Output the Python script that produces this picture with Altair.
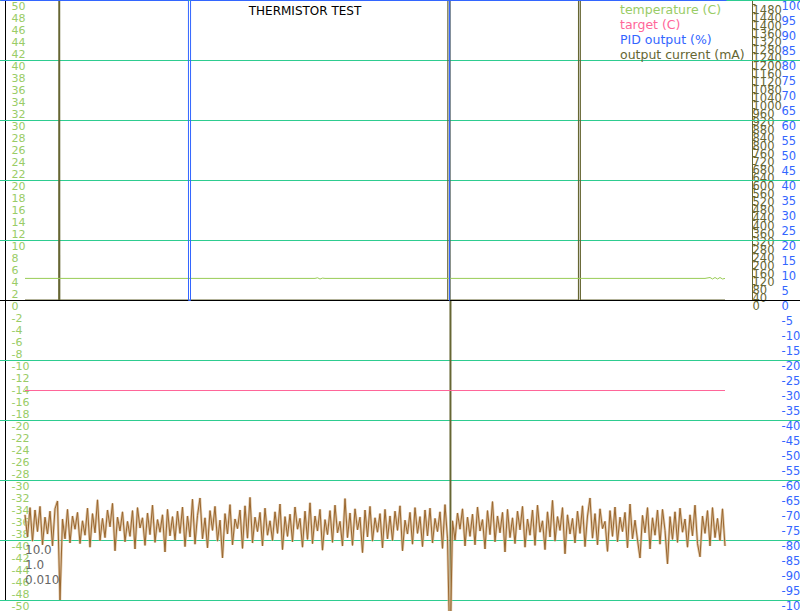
import altair as alt
import pandas as pd

# ---------------- data ----------------
# noisy brown trace (temperature scale, C), one sample per time unit, t = 0..280
brown = [
    -35.8, -39.5, -34.6, -40.2, -35.0, -38.6, -34.4, -40.8, -36.2, -39.0, -35.2, -41.0, -34.8, -33.5, -50.0, -36.5, -39.8, -34.9, -40.5, -36.0,
    -38.2, -35.4, -40.6, -36.8, -39.2, -34.7, -41.2, -35.6, -38.8, -33.3, -40.1, -36.4, -39.6, -35.0, -37.8, -33.9, -41.8, -36.2, -38.5, -35.3,
    -40.3, -36.9, -39.4, -35.1, -41.5, -34.6, -38.0, -36.3, -40.9, -35.5, -39.1, -34.2, -40.4, -36.6, -38.7, -35.8, -42.0, -34.9, -39.3, -36.1,
    -40.0, -35.2, -38.9, -34.5, -41.1, -36.0, -39.5, -33.2, -40.7, -35.9, -33.0, -39.8, -36.3, -41.3, -35.1, -38.4, -34.4, -40.2, -36.7, -43.0,
    -35.6, -39.0, -34.1, -40.8, -36.5, -38.1, -35.0, -41.4, -34.3, -39.7, -32.9, -40.5, -36.2, -38.6, -35.4, -41.0, -34.7, -39.2, -36.8, -40.1,
    -35.3, -38.9, -34.0, -41.6, -36.1, -39.4, -35.7, -40.3, -34.5, -38.2, -36.4, -41.2, -35.2, -39.9, -33.8, -40.6, -36.0, -38.5, -34.9, -41.7,
    -36.6, -39.1, -35.1, -40.4, -34.2, -38.8, -36.9, -41.0, -33.1, -39.6, -35.5, -40.9, -34.8, -38.3, -36.2, -42.1, -35.0, -39.5, -34.4, -40.2,
    -36.3, -38.7, -35.6, -41.3, -34.9, -39.8, -36.0, -40.1, -35.2, -38.4, -34.3, -41.8, -36.7, -39.0, -35.4, -40.7, -34.6, -38.9, -36.1, -41.1,
    -35.0, -39.3, -34.7, -40.5, -36.4, -38.6, -35.3, -41.4, -34.1, -39.7, -60.0, -36.8, -40.0, -35.5, -38.2, -34.8, -41.0, -36.2, -39.4, -35.7,
    -40.8, -34.5, -38.5, -36.6, -41.5, -35.1, -39.1, -33.6, -40.3, -36.0, -38.8, -35.4, -42.0, -34.9, -39.6, -36.3, -40.6, -35.2, -38.3, -34.4,
    -41.2, -36.5, -39.2, -35.0, -40.9, -34.2, -38.7, -36.8, -41.6, -35.3, -39.5, -33.4, -40.2, -36.1, -38.4, -34.6, -42.3, -35.8, -39.0, -36.4,
    -40.5, -35.2, -38.9, -34.3, -41.1, -36.0, -33.0, -39.7, -35.6, -40.8, -34.8, -38.1, -36.9, -41.9, -35.1, -39.4, -34.5, -40.3, -36.2, -38.6,
    -35.4, -41.3, -34.0, -39.8, -36.7, -40.0, -43.0, -35.9, -38.8, -34.6, -41.5, -36.3, -39.2, -35.0, -40.7, -34.9, -38.4, -44.0, -36.1, -39.9,
    -35.3, -40.4, -34.7, -38.7, -36.5, -41.2, -35.8, -39.3, -34.2, -40.6, -42.8, -36.0, -38.9, -35.1, -41.0, -34.6, -39.6, -36.4, -40.1, -34.8, -41.0,
]
brown_t = list(range(len(brown)))

# temperature (C)
temp_t = [0, 116, 117, 118, 119, 120, 272, 274, 275, 276, 277, 278, 279, 280]
temp_v = [3.6, 3.6, 3.7, 3.5, 3.65, 3.6, 3.6, 3.75, 3.5, 3.75, 3.5, 3.75, 3.5, 3.6]

# target (C)
target_t = [0, 280]
target_v = [-15, -15]

# PID output (%)
pid_t = [-10, 65.18, 65.2, 66.0, 66.02, 169.55, 169.6, 169.65, 169.7, 280.4]
pid_v = [100, 100, 0, 0, 100, 100, 0, 0, 100, 100]

# output current (mA)
cur_t = [0, 13.5, 13.6, 13.8, 13.9, 169.1, 169.2, 170.0, 170.05, 170.3, 170.35, 221.4, 221.45, 222.1, 222.15, 280]
cur_v = [0, 0, 3000, 3000, 0, 0, 3000, 3000, -3000, -3000, 0, 0, 3000, 3000, 0, 0]

grid_vals = [-50, -40, -30, -20, -10, 10, 20, 30, 40, 50]
temp_ticks = list(range(-50, 51, 2))
pid_ticks = list(range(-100, 101, 5))
cur_ticks = list(range(0, 1481, 40))

legend_labels = ["temperature (C)", "target (C)", "PID output (%)", "output current (mA)"]
legend_colors = ["#99cc66", "#ff6699", "#3366ff", "#666633"]
params = ["10.0", "1.0", "0.010"]
title_text = "THERMISTOR TEST"

FONT = "DejaVu Sans"

# ---------------- scales ----------------
def xs():
    return alt.Scale(domain=[-10, 310], nice=False, zero=False)

def ts():
    return alt.Scale(domain=[-50, 50], nice=False, zero=False)

X = alt.X("t:Q", scale=xs(), axis=None)

# ---------------- layers ----------------
grid = alt.Chart(pd.DataFrame({"g": grid_vals})).mark_rule(color="#2ecc90", strokeWidth=1, yOffset=0.5).encode(
    y=alt.Y("g:Q", scale=ts(), axis=None)
)

cur = alt.Chart(pd.DataFrame({"t": cur_t, "v": cur_v})).mark_line(color="#666633", strokeWidth=1.2).encode(
    x=X,
    y=alt.Y(
        "v:Q",
        scale=alt.Scale(domain=[0, 1500], range=[300, 0], nice=False, zero=False),
        axis=alt.Axis(
            orient="right", offset=-48, values=cur_ticks, labelExpr="'' + datum.value",
            labelAlign="left", labelBaseline="top", labelPadding=-3, tickSize=3,
            tickColor="#666633", domainColor="#666633", labelColor="#666633",
            labelFont=FONT, labelFontSize=11.5, labelOverlap=False, grid=False, title=None,
        ),
    ),
)

zero = alt.Chart(pd.DataFrame({"z": [0]})).mark_rule(color="black", strokeWidth=1, yOffset=0.5).encode(
    y=alt.Y("z:Q", scale=ts(), axis=None)
)

br_halo = alt.Chart(pd.DataFrame({"t": brown_t, "v": brown})).mark_line(
    color="#d9bc96", strokeWidth=2.6, opacity=0.8
).encode(x=X, y=alt.Y("v:Q", scale=ts(), axis=None))

br = alt.Chart(pd.DataFrame({"t": brown_t, "v": brown})).mark_line(color="#99662e", strokeWidth=1).encode(
    x=X, y=alt.Y("v:Q", scale=ts(), axis=None)
)

tgt = alt.Chart(pd.DataFrame({"t": target_t, "v": target_v})).mark_line(color="#ff6699", strokeWidth=1, yOffset=0.5).encode(
    x=X, y=alt.Y("v:Q", scale=ts(), axis=None)
)

temp = alt.Chart(pd.DataFrame({"t": temp_t, "v": temp_v})).mark_line(color="#99cc55", strokeWidth=1).encode(
    x=X,
    y=alt.Y(
        "v:Q",
        scale=ts(),
        axis=alt.Axis(
            orient="left", offset=-5, values=temp_ticks, labelExpr="'' + datum.value",
            labelAlign="left", labelBaseline="top", labelPadding=-6, ticks=False, tickSize=0,
            domainColor="black", labelColor="#99cc66", labelFont=FONT, labelFontSize=11,
            labelOverlap=False, grid=False, title=None,
        ),
    ),
)

pid = alt.Chart(pd.DataFrame({"t": pid_t, "v": pid_v})).mark_line(
    color="#3366ff", strokeWidth=1, xOffset=0.5, yOffset=0.5
).encode(
    x=X,
    y=alt.Y(
        "v:Q",
        scale=alt.Scale(domain=[-100, 100], nice=False, zero=False),
        axis=alt.Axis(
            orient="right", offset=-19, values=pid_ticks, labelExpr="'' + datum.value",
            labelAlign="left", labelBaseline="top", labelPadding=0, ticks=False, tickSize=0,
            domain=False, labelColor="#3366ff", labelFont=FONT, labelFontSize=11.5,
            labelOverlap=False, grid=False, title=None,
        ),
    ),
)

title = alt.Chart(pd.DataFrame({"s": [title_text]})).mark_text(
    align="center", baseline="middle", font=FONT, fontSize=12, color="black"
).encode(x=alt.value(305), y=alt.value(10.5), text="s:N")

leg = alt.Chart(pd.DataFrame({"label": legend_labels, "i": list(range(len(legend_labels)))})).mark_text(
    align="left", baseline="middle", font=FONT, fontSize=12.5
).encode(
    x=alt.value(620),
    y=alt.Y("i:Q", scale=alt.Scale(domain=[0, 3], range=[10, 55], nice=False, zero=False), axis=None),
    text="label:N",
    color=alt.Color("label:N", scale=alt.Scale(domain=legend_labels, range=legend_colors), legend=None),
)

par = alt.Chart(pd.DataFrame({"p": params, "i": list(range(len(params)))})).mark_text(
    align="left", baseline="middle", font=FONT, fontSize=12, color="#666666"
).encode(
    x=alt.value(25),
    y=alt.Y("i:Q", scale=alt.Scale(domain=[0, 2], range=[550, 580], nice=False, zero=False), axis=None),
    text="p:N",
)

chart = (
    alt.layer(grid, cur, zero, br_halo, br, tgt, temp, pid, title, leg, par)
    .resolve_scale(y="independent", color="independent")
    .properties(
        width=800, height=600,
        autosize=alt.AutoSizeParams(type="none"),
        padding={"left": 0, "top": 0, "right": 0, "bottom": 11},
        background="white",
    )
    .configure_view(strokeWidth=0)
)

chart.save("out.html", embed_options={"renderer": "svg", "actions": False})
